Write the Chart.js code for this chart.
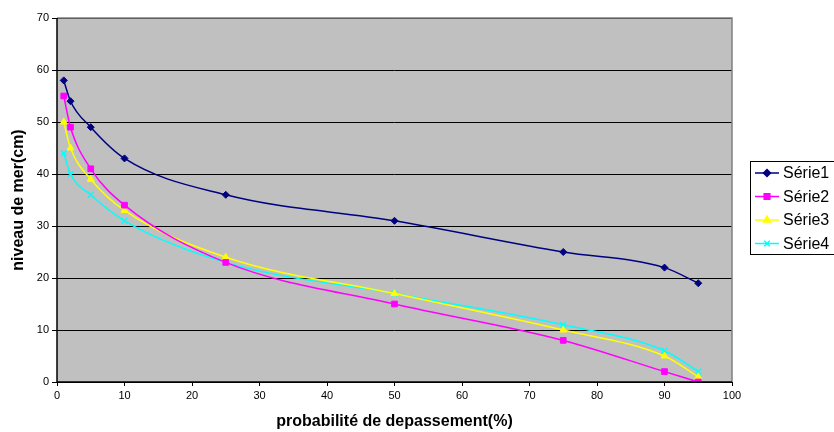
<!DOCTYPE html>
<html>
<head>
<meta charset="utf-8">
<script src="https://cdn.jsdelivr.net/npm/chart.js@4/dist/chart.umd.min.js"></script>
<style>
  html, body { margin: 0; padding: 0; background: #fff; }
  #wrap { width: 834px; height: 432px; }
</style>
</head>
<body>
<div id="wrap"><canvas id="myChart" width="834" height="432"></canvas></div>
<script>
// probabilities (x) and sea levels per series
const probs = [1, 2, 5, 10, 25, 50, 75, 90, 95];
const serie1 = [58, 54, 49, 43, 36, 31, 25, 22, 19];
const serie2 = [55, 49, 41, 34, 23, 15, 8, 2, 0];
const serie3 = [50, 45, 39, 33, 24, 17, 10, 5, 1];
const serie4 = [44, 40, 36, 31, 23, 17, 11, 6, 2];
const seriesNames = ['Série1', 'Série2', 'Série3', 'Série4'];
const xTicks = [0, 10, 20, 30, 40, 50, 60, 70, 80, 90, 100];
const yTicks = [0, 10, 20, 30, 40, 50, 60, 70];

const colors = ['#000080', '#FF00FF', '#FFFF00', '#00FFFF'];
const styles = ['rectRot', 'rect', 'triangle', 'crossRot'];
const radii = [3.5, 4, 4, 4];
const FONT = '"Liberation Sans", Arial, sans-serif';

function toPoints(values) {
    return probs.map((p, i) => ({ x: p, y: values[i] }));
}

const datasets = [serie1, serie2, serie3, serie4].map((vals, i) => ({
    label: seriesNames[i],
    data: toPoints(vals),
    borderColor: colors[i],
    backgroundColor: colors[i],
    borderWidth: 1.5,
    pointStyle: styles[i],
    pointRadius: radii[i],
    pointBorderWidth: i === 3 ? 1.5 : 1,
    cubicInterpolationMode: 'monotone',
    showLine: true
}));

// gray plot background and border
const plotBackground = {
    id: 'plotBackground',
    beforeDraw(chart) {
        const { ctx, chartArea: a } = chart;
        ctx.save();
        ctx.fillStyle = '#C0C0C0';
        ctx.fillRect(a.left, a.top, a.right - a.left, a.bottom - a.top);
        ctx.restore();
    },
    afterDatasetsDraw(chart) {
        const { ctx, chartArea: a } = chart;
        ctx.save();
        ctx.strokeStyle = '#808080';
        ctx.lineWidth = 1.5;
        ctx.beginPath();
        ctx.moveTo(a.left, a.top);
        ctx.lineTo(a.right, a.top);
        ctx.lineTo(a.right, a.bottom);
        ctx.stroke();
        ctx.strokeStyle = '#000';
        ctx.beginPath();
        ctx.moveTo(a.left, a.top);
        ctx.lineTo(a.left, a.bottom);
        ctx.lineTo(a.right, a.bottom);
        ctx.stroke();
        ctx.restore();
    }
};

// Excel-like legend box on the right
const sideLegend = {
    id: 'sideLegend',
    afterDraw(chart) {
        const ctx = chart.ctx;
        const boxX = 750, boxY = 161, boxW = 90, boxH = 93;
        ctx.save();
        ctx.fillStyle = '#fff';
        ctx.fillRect(boxX, boxY, boxW, boxH);
        ctx.strokeStyle = '#000';
        ctx.lineWidth = 1;
        ctx.strokeRect(boxX + 0.5, boxY + 0.5, boxW, boxH);
        ctx.font = '16px ' + FONT;
        ctx.textBaseline = 'middle';
        chart.data.datasets.forEach((ds, i) => {
            const y = 173 + i * 23.5;
            ctx.strokeStyle = ds.borderColor;
            ctx.lineWidth = 1.5;
            ctx.beginPath();
            ctx.moveTo(755, y);
            ctx.lineTo(779, y);
            ctx.stroke();
            ctx.fillStyle = ds.backgroundColor;
            ctx.strokeStyle = ds.borderColor;
            Chart.helpers.drawPoint(ctx, {
                pointStyle: ds.pointStyle,
                radius: ds.pointRadius,
                borderWidth: ds.pointBorderWidth,
                rotation: 0
            }, 767, y);
            ctx.fillStyle = '#000';
            ctx.fillText(ds.label, 783, y + 1);
        });
        ctx.restore();
    }
};

const ctx = document.getElementById('myChart').getContext('2d');
const myChart = new Chart(ctx, {
    type: 'line',
    data: { datasets: datasets },
    plugins: [plotBackground, sideLegend],
    options: {
        responsive: false,
        animation: false,
        layout: { padding: { left: 0, right: 102, top: 18, bottom: 0 } },
        plugins: {
            legend: { display: false },
            tooltip: { enabled: false }
        },
        scales: {
            x: {
                type: 'linear',
                min: 0,
                max: 100,
                afterFit(scale) { scale.height = 50; },
                afterBuildTicks(scale) { scale.ticks = xTicks.map(v => ({ value: v })); },
                border: { display: false },
                grid: {
                    drawOnChartArea: false,
                    color: '#000',
                    tickLength: 4,
                    tickWidth: 1
                },
                ticks: {
                    color: '#000',
                    padding: 3,
                    maxRotation: 0,
                    font: { family: FONT, size: 11 }
                },
                title: {
                    display: true,
                    text: 'probabilité de depassement(%)',
                    color: '#000',
                    padding: { top: 0, bottom: 1 },
                    font: { family: FONT, size: 16, weight: 'bold' }
                }
            },
            y: {
                min: 0,
                max: 70,
                afterFit(scale) { scale.width = 57; },
                afterBuildTicks(scale) { scale.ticks = yTicks.map(v => ({ value: v })); },
                border: { display: false },
                grid: {
                    color: '#000',
                    lineWidth: 1,
                    tickLength: 5
                },
                ticks: {
                    color: '#000',
                    padding: 3,
                    font: { family: FONT, size: 11 }
                },
                title: {
                    display: true,
                    text: 'niveau de mer(cm)',
                    color: '#000',
                    padding: { top: 9, bottom: 0 },
                    font: { family: FONT, size: 16, weight: 'bold' }
                }
            }
        }
    }
});
</script>
</body>
</html>
